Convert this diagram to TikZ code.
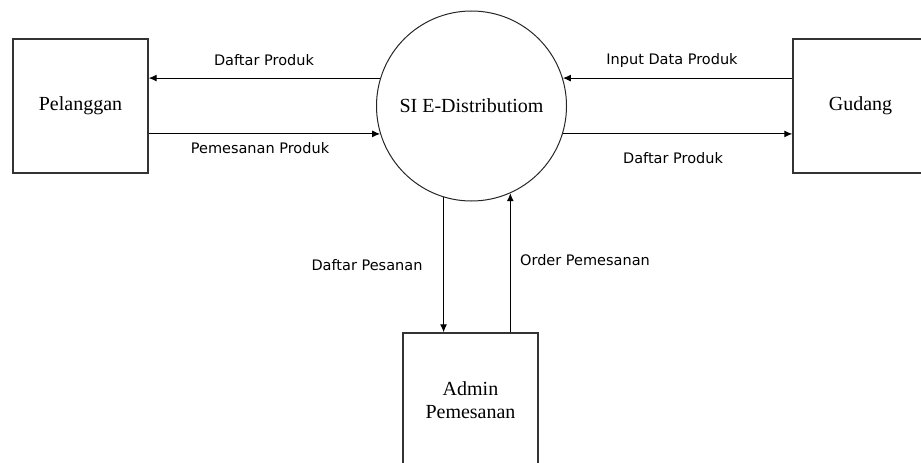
\documentclass[tikz,border=0pt]{standalone}
\usepackage{fontspec}
\setmainfont{Liberation Serif}
\newfontfamily\lblfont{DejaVu Sans}
\usetikzlibrary{arrows.meta}

\begin{document}
\begin{tikzpicture}[x=1pt, y=-1pt]
\tikzset{ >={Latex[length=8pt,width=7pt]},
  entity/.style={draw=black!80, line width=1.3pt, minimum width=135pt, minimum height=134pt,
    inner sep=0pt, align=center, font=\fontsize{20}{23}\selectfont},
  process/.style={draw=black!85, line width=1pt, circle, minimum size=190pt, inner sep=0pt,
    font=\fontsize{20}{23}\selectfont},
  flow/.style={line width=1.1pt},
  lbl/.style={font=\lblfont\fontsize{14.5}{16}\selectfont, inner sep=0pt},
}

\useasboundingbox (0,0) rectangle (921,463);
\clip (0,0) rectangle (921,463);

%\draw [lightgray, dashed](0,0) grid [step=50] (921,463);

\node [entity]  (Pelanggan) at (80.5,106)  {Pelanggan};
\node [process] (SI)        at (471.5,106) {SI E-Distributiom};
\node [entity]  (Gudang)    at (860.5,106) {Gudang};
\node [entity]  (Admin)     at (470.5,400) {Admin\\Pemesanan};

\draw [->, flow] (SI.163)   -- (SI.163 -| Pelanggan.east);
\draw [->, flow] (SI.197 -| Pelanggan.east) -- (SI.197);
\draw [->, flow] (SI.17 -| Gudang.west) -- (SI.17);
\draw [->, flow] (SI.-17)   -- (SI.-17 -| Gudang.west);
\draw [->, flow] (SI.-107)  -- (SI.-107 |- Admin.north);
\draw [->, flow] (SI.-66 |- Admin.north) -- (SI.-66);

\node [lbl] at (264,60)  {Daftar Produk};
\node [lbl] at (260,148) {Pemesanan Produk};
\node [lbl] at (672,60)  {Input Data Produk};
\node [lbl] at (673,158) {Daftar Produk};
\node [lbl] at (367,265) {Daftar Pesanan};
\node [lbl] at (585,260) {Order Pemesanan};

\end{tikzpicture}
\end{document}
